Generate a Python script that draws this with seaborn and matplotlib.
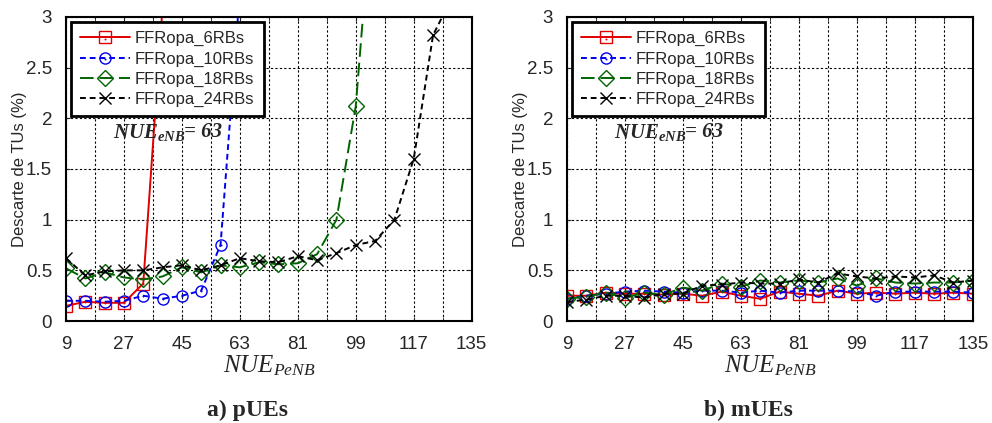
import matplotlib
matplotlib.use('Agg')
import matplotlib.pyplot as plt
import seaborn as sns
import pandas as pd

# x values (number of UEs per PeNB)
x_pue = [9, 15, 21, 27, 33, 39, 45, 51, 57, 63, 69, 75, 81, 87, 93, 99, 105, 111, 117, 123, 129]
x_mue = [9, 15, 21, 27, 33, 39, 45, 51, 57, 63, 69, 75, 81, 87, 93, 99, 105, 111, 117, 123, 129, 135]

# a) pUEs  -- series end once they leave the plot (values above 3 are clipped)
p_6rbs = [0.15, 0.19, 0.18, 0.18, 0.37, 3.1]
p_10rbs = [0.20, 0.20, 0.19, 0.20, 0.25, 0.22, 0.25, 0.30, 0.75, 3.25]
p_18rbs = [0.52, 0.42, 0.48, 0.43, 0.41, 0.44, 0.53, 0.48, 0.55, 0.53, 0.58, 0.56,
           0.57, 0.66, 1.00, 2.12, 4.5]
p_24rbs = [0.62, 0.45, 0.49, 0.50, 0.50, 0.53, 0.55, 0.50, 0.55, 0.62, 0.59, 0.58,
           0.64, 0.60, 0.67, 0.75, 0.79, 1.00, 1.60, 2.82, 3.2]

# b) mUEs
m_6rbs = [0.25, 0.25, 0.28, 0.27, 0.27, 0.26, 0.27, 0.25, 0.29, 0.25, 0.22, 0.29,
          0.27, 0.25, 0.30, 0.27, 0.28, 0.27, 0.28, 0.27, 0.28, 0.27]
m_10rbs = [0.22, 0.25, 0.27, 0.29, 0.30, 0.29, 0.28, 0.30, 0.30, 0.28, 0.30, 0.28,
           0.30, 0.30, 0.30, 0.29, 0.25, 0.29, 0.29, 0.29, 0.29, 0.28]
m_18rbs = [0.22, 0.24, 0.28, 0.23, 0.28, 0.26, 0.33, 0.30, 0.37, 0.34, 0.40, 0.38,
           0.40, 0.38, 0.42, 0.35, 0.42, 0.38, 0.37, 0.38, 0.38, 0.40]
m_24rbs = [0.19, 0.21, 0.25, 0.25, 0.23, 0.27, 0.27, 0.35, 0.36, 0.38, 0.37, 0.37,
           0.41, 0.38, 0.47, 0.44, 0.42, 0.44, 0.43, 0.45, 0.38, 0.40]

labels = ['FFRopa_6RBs', 'FFRopa_10RBs', 'FFRopa_18RBs', 'FFRopa_24RBs']
colors = ['#e00000', '#0000ee', '#006400', '#000000']
markers = ['s', 'o', 'D', 'x']
msizes = [8, 8, 8, 9]
styles = ['-', (0, (3, 2)), (0, (7, 3)), (0, (3, 2))]
center_dot = [True, True, False, False]

sns.set_style('ticks')
plt.rcParams['font.family'] = ['Liberation Sans', 'DejaVu Sans']
plt.rcParams['mathtext.fontset'] = 'custom'
plt.rcParams['mathtext.it'] = 'Liberation Serif:italic'
plt.rcParams['mathtext.rm'] = 'Liberation Serif'
plt.rcParams['mathtext.bfit'] = 'Liberation Serif:italic:bold'
plt.rcParams['mathtext.bf'] = 'Liberation Serif:bold'

fig = plt.figure(figsize=(9.92, 4.23), dpi=100)
ax1 = fig.add_axes([0.0665, 0.241, 0.409, 0.719])
ax2 = fig.add_axes([0.5716, 0.241, 0.409, 0.719])


def draw(ax, xs, series):
    handles = []
    for ys, lab, c, m, ms, ls, dot in zip(series, labels, colors, markers, msizes, styles, center_dot):
        df = pd.DataFrame({'x': xs[:len(ys)], 'y': ys})
        sns.lineplot(data=df, x='x', y='y', ax=ax, color=c, linestyle=ls, linewidth=1.4,
                     marker=m, markersize=ms, markerfacecolor='none', markeredgecolor=c,
                     markeredgewidth=1.0, label=lab, legend=False, clip_on=True)
        line = ax.get_lines()[-1]
        if dot:
            sns.scatterplot(data=df, x='x', y='y', ax=ax, color=c, s=2, linewidth=0,
                            legend=False)
            handles.append((line, ax.collections[-1]))
        else:
            handles.append(line)
    ax.set_xlim(9, 135)
    ax.set_ylim(0, 3)
    ax.set_xticks(range(9, 136, 18))
    ax.set_xticks(range(9, 136, 9), minor=True)
    ax.set_yticks([0, 0.5, 1, 1.5, 2, 2.5, 3])
    ax.set_yticklabels(['0', '0.5', '1', '1.5', '2', '2.5', '3'])
    ax.grid(True, which='both', color='black', linestyle=(0, (2, 2)), linewidth=0.8)
    ax.tick_params(axis='both', which='both', direction='in', length=3, labelsize=13.5,
                   top=True, right=True)
    ax.tick_params(axis='x', pad=11)
    ax.tick_params(axis='y', pad=10)
    for s in ax.spines.values():
        s.set_linewidth(1.5)
        s.set_color('black')
    ax.set_xlabel('$NUE_{PeNB}$', fontsize=18, labelpad=0)
    ax.set_ylabel('Descarte de TUs (%)', fontsize=12, labelpad=-0.5)
    leg = ax.legend(handles, labels, loc='upper left', fontsize=12, frameon=True,
                    fancybox=False, framealpha=1, edgecolor='black', handlelength=3.0,
                    borderaxespad=0.0, labelspacing=0.3, handletextpad=0.3,
                    borderpad=0.55, bbox_to_anchor=(0.012, 0.983))
    leg.get_frame().set_linewidth(2)
    ax.text(23.5, 1.86, r'$\mathbfit{NUE_{eNB}}$', fontsize=15, va='center', ha='left')
    ax.text(45.5, 1.86, '= 63', fontsize=15, va='center', ha='left',
            family='Liberation Serif', fontweight='bold', fontstyle='italic')


draw(ax1, x_pue, [p_6rbs, p_10rbs, p_18rbs, p_24rbs])
draw(ax2, x_mue, [m_6rbs, m_10rbs, m_18rbs, m_24rbs])

fig.text(0.249, 0.03, 'a) pUEs', fontsize=17, fontweight='bold', family='Liberation Serif',
         ha='center', va='center')
fig.text(0.754, 0.03, 'b) mUEs', fontsize=17, fontweight='bold', family='Liberation Serif',
         ha='center', va='center')

fig.savefig('out.png', dpi=100)
